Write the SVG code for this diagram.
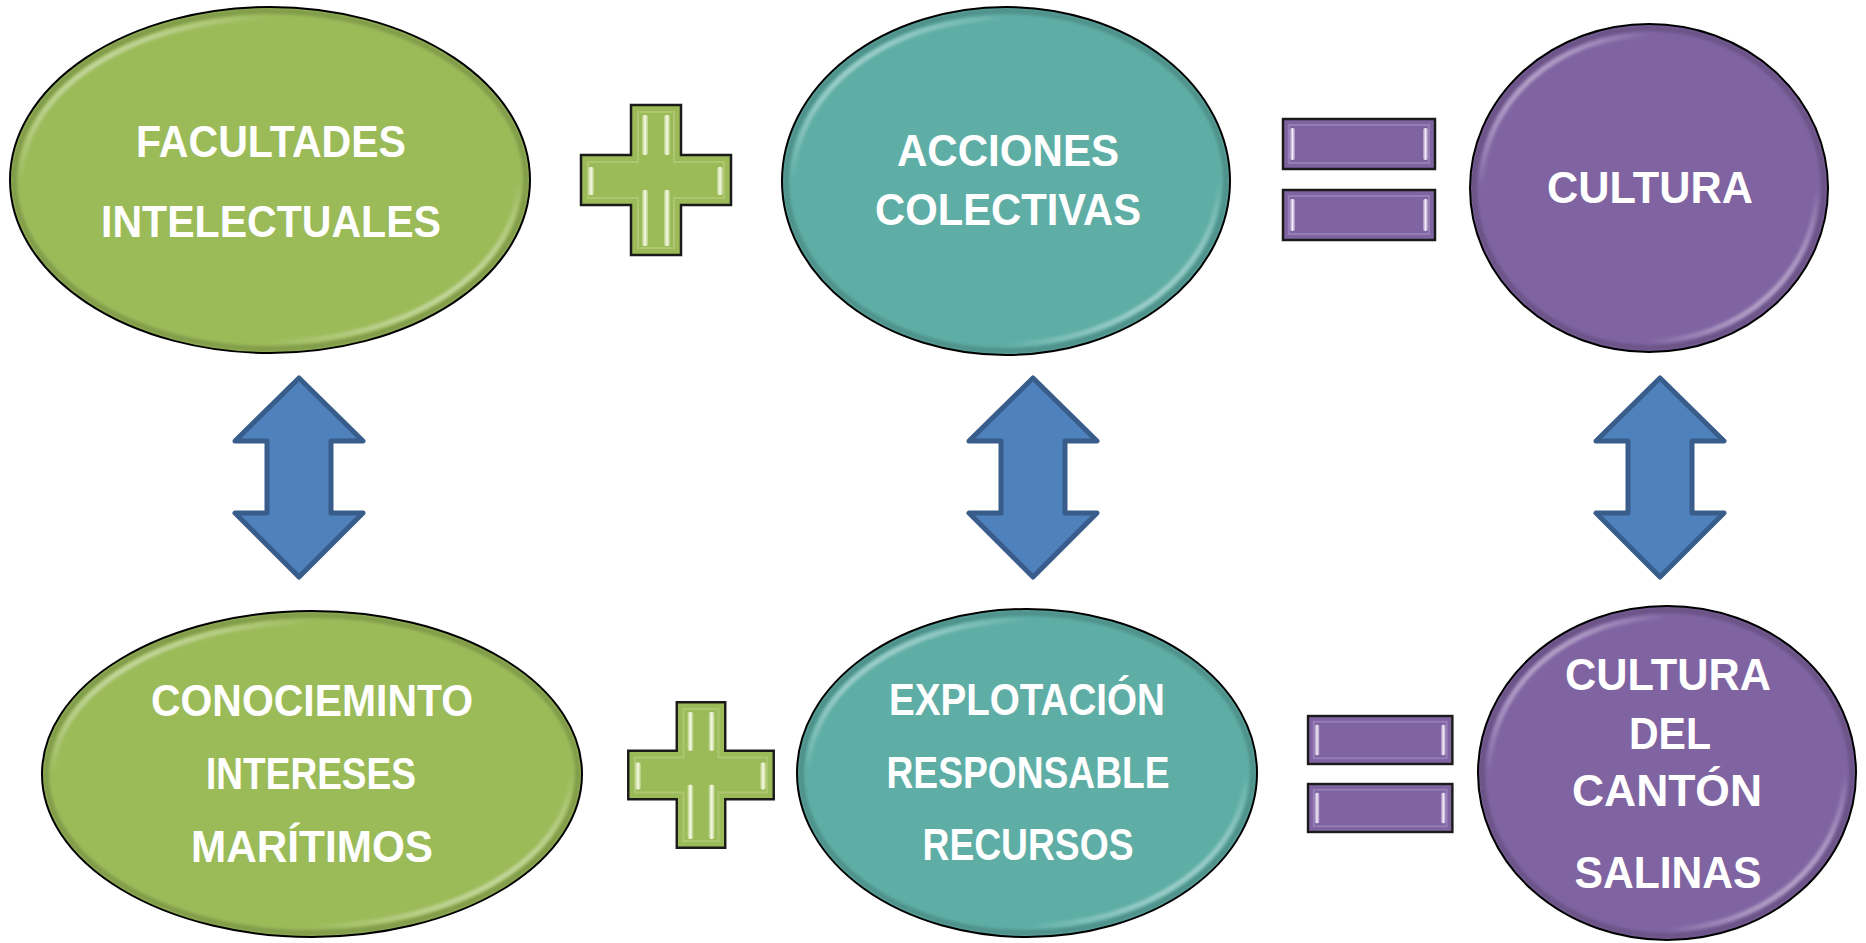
<svg xmlns="http://www.w3.org/2000/svg" width="1866" height="943" viewBox="0 0 1866 943">
<style>
.lbl{font-family:"Liberation Sans",Arial,sans-serif;font-weight:bold;font-size:44px;fill:#ffffff;text-anchor:middle}
.rim{fill:none;stroke:#000;stroke-width:2}
.shine{fill:none;stroke:url(#shineGrad);stroke-width:5;filter:url(#soft)}
.shade{fill:none;stroke:#000;stroke-opacity:0.16;stroke-width:6;filter:url(#soft)}
.green{fill:#9BBB59}
.teal{fill:#5EAEA6}
.purple{fill:#8064A2}
.arrow{fill:#4F81BD;stroke:#385D8A;stroke-width:5;stroke-linejoin:round}
</style>
<defs>
<filter id="soft" x="-5%" y="-5%" width="110%" height="110%"><feGaussianBlur stdDeviation="1.5"/></filter>
<linearGradient id="shineGrad" x1="0" y1="0" x2="1" y2="1">
<stop offset="0" stop-color="#fff" stop-opacity="0.95"/>
<stop offset="0.25" stop-color="#fff" stop-opacity="0"/>
<stop offset="0.75" stop-color="#fff" stop-opacity="0"/>
<stop offset="1" stop-color="#fff" stop-opacity="0.95"/>
</linearGradient>
<linearGradient id="stripG" x1="0" y1="0" x2="1" y2="0">
<stop offset="0" stop-color="#F4F9E0" stop-opacity="0.3"/>
<stop offset="0.5" stop-color="#F7FBE6"/>
<stop offset="1" stop-color="#F4F9E0" stop-opacity="0.3"/>
</linearGradient>
<linearGradient id="stripP" x1="0" y1="0" x2="1" y2="0">
<stop offset="0" stop-color="#EDE4F8" stop-opacity="0.3"/>
<stop offset="0.5" stop-color="#F3EDFB"/>
<stop offset="1" stop-color="#EDE4F8" stop-opacity="0.3"/>
</linearGradient>
<g id="plusShape">
<polygon points="-25,-75 25,-75 25,-25 75,-25 75,25 25,25 25,75 -25,75 -25,25 -75,25 -75,-25 -25,-25" fill="#9BBB59" stroke="#1a1a1a" stroke-width="2.5"/>
<polygon points="-18,-68 18,-68 18,-18 68,-18 68,18 18,18 18,68 -18,68 -18,18 -68,18 -68,-18 -18,-18" fill="none" stroke="#B8CF80" stroke-width="2" stroke-opacity="0.6"/>
<rect x="-14" y="-65" width="6" height="40" rx="2" fill="url(#stripG)"/>
<rect x="8" y="-65" width="6" height="40" rx="2" fill="url(#stripG)"/>
<rect x="-14" y="10" width="6" height="56" rx="2" fill="url(#stripG)"/>
<rect x="8" y="10" width="6" height="56" rx="2" fill="url(#stripG)"/>
<rect x="-68" y="-13" width="6" height="28" rx="2" fill="url(#stripG)"/>
<rect x="61" y="-13" width="6" height="28" rx="2" fill="url(#stripG)"/>
</g>
<g id="barShape">
<rect x="0" y="0" width="152" height="50" fill="#8064A2" stroke="#1a1a1a" stroke-width="2.5"/>
<rect x="6" y="6" width="140" height="38" fill="none" stroke="#9A83BA" stroke-width="2" stroke-opacity="0.8"/>
<rect x="7" y="9" width="5" height="32" rx="2" fill="url(#stripP)"/>
<rect x="140" y="9" width="5" height="32" rx="2" fill="url(#stripP)"/>
</g>
</defs>
<rect width="1866" height="943" fill="#ffffff"/>

<g id="connectors">
<polygon class="arrow" points="299,378 363,441 331,441 331,513 363,513 299,577 235,513 267,513 267,441 235,441"/>
<polygon class="arrow" points="1033,378 1097,441 1065,441 1065,513 1097,513 1033,577 969,513 1001,513 1001,441 969,441"/>
<polygon class="arrow" points="1660,378 1724,441 1692,441 1692,513 1724,513 1660,577 1596,513 1628,513 1628,441 1596,441"/>
</g>

<g id="plus-top"><use href="#plusShape" transform="translate(656,180)"/></g>
<g id="equals-top">
<use href="#barShape" transform="translate(1283,119)"/>
<use href="#barShape" transform="translate(1283,190)"/>
</g>
<g id="plus-bottom"><use href="#plusShape" transform="translate(701,775) scale(0.97)"/></g>
<g id="equals-bottom">
<use href="#barShape" transform="translate(1308,716) scale(0.95,0.96)"/>
<use href="#barShape" transform="translate(1308,784) scale(0.95,0.96)"/>
</g>

<g id="node-facultades">
<ellipse class="green" cx="270" cy="180" rx="260" ry="173"/>
<ellipse class="shade" cx="270" cy="180" rx="256" ry="169"/>
<ellipse class="shine" cx="270" cy="180" rx="249" ry="162"/>
<ellipse class="rim" cx="270" cy="180" rx="260" ry="173"/>
<text class="lbl" x="271" y="157" textLength="270" lengthAdjust="spacingAndGlyphs">FACULTADES</text>
<text class="lbl" x="271" y="237" textLength="340" lengthAdjust="spacingAndGlyphs">INTELECTUALES</text>
</g>

<g id="node-acciones">
<ellipse class="teal" cx="1006" cy="181" rx="224" ry="174"/>
<ellipse class="shade" cx="1006" cy="181" rx="220" ry="170"/>
<ellipse class="shine" cx="1006" cy="181" rx="213" ry="163"/>
<ellipse class="rim" cx="1006" cy="181" rx="224" ry="174"/>
<text class="lbl" x="1008" y="166" textLength="222" lengthAdjust="spacingAndGlyphs">ACCIONES</text>
<text class="lbl" x="1008" y="225" textLength="266" lengthAdjust="spacingAndGlyphs">COLECTIVAS</text>
</g>

<g id="node-cultura">
<ellipse class="purple" cx="1649" cy="188" rx="179" ry="164"/>
<ellipse class="shade" cx="1649" cy="188" rx="175" ry="160"/>
<ellipse class="shine" cx="1649" cy="188" rx="168" ry="153"/>
<ellipse class="rim" cx="1649" cy="188" rx="179" ry="164"/>
<text class="lbl" x="1650" y="203" textLength="206" lengthAdjust="spacingAndGlyphs">CULTURA</text>
</g>

<g id="node-conocimiento">
<ellipse class="green" cx="312" cy="774" rx="270" ry="163"/>
<ellipse class="shade" cx="312" cy="774" rx="266" ry="159"/>
<ellipse class="shine" cx="312" cy="774" rx="259" ry="152"/>
<ellipse class="rim" cx="312" cy="774" rx="270" ry="163"/>
<text class="lbl" x="312" y="716" textLength="322" lengthAdjust="spacingAndGlyphs">CONOCIEMINTO</text>
<text class="lbl" x="311" y="789" textLength="210" lengthAdjust="spacingAndGlyphs">INTERESES</text>
<text class="lbl" x="312" y="862" textLength="242" lengthAdjust="spacingAndGlyphs">MARÍTIMOS</text>
</g>

<g id="node-explotacion">
<ellipse class="teal" cx="1027" cy="773" rx="230" ry="164"/>
<ellipse class="shade" cx="1027" cy="773" rx="226" ry="160"/>
<ellipse class="shine" cx="1027" cy="773" rx="219" ry="153"/>
<ellipse class="rim" cx="1027" cy="773" rx="230" ry="164"/>
<text class="lbl" x="1027" y="715" textLength="276" lengthAdjust="spacingAndGlyphs">EXPLOTACIÓN</text>
<text class="lbl" x="1028" y="788" textLength="283" lengthAdjust="spacingAndGlyphs">RESPONSABLE</text>
<text class="lbl" x="1028" y="860" textLength="211" lengthAdjust="spacingAndGlyphs">RECURSOS</text>
</g>

<g id="node-cultura-salinas">
<ellipse class="purple" cx="1667" cy="773" rx="189" ry="167"/>
<ellipse class="shade" cx="1667" cy="773" rx="185" ry="163"/>
<ellipse class="shine" cx="1667" cy="773" rx="178" ry="156"/>
<ellipse class="rim" cx="1667" cy="773" rx="189" ry="167"/>
<text class="lbl" x="1668" y="690" textLength="206" lengthAdjust="spacingAndGlyphs">CULTURA</text>
<text class="lbl" x="1670" y="749" textLength="82" lengthAdjust="spacingAndGlyphs">DEL</text>
<text class="lbl" x="1667" y="806" textLength="190" lengthAdjust="spacingAndGlyphs">CANTÓN</text>
<text class="lbl" x="1668" y="888" textLength="187" lengthAdjust="spacingAndGlyphs">SALINAS</text>
</g>
</svg>
